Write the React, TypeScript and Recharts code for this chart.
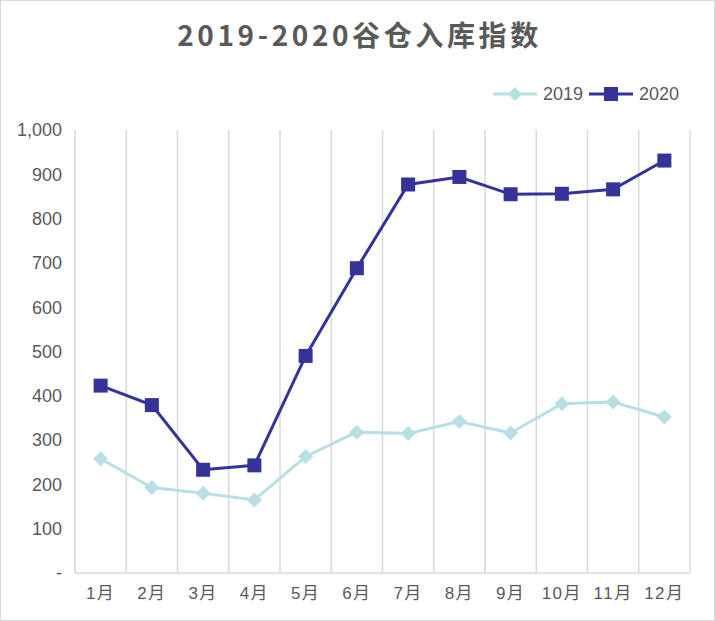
import { LineChart, Line, XAxis, YAxis, CartesianGrid } from "recharts";

const months = ["1月", "2月", "3月", "4月", "5月", "6月", "7月", "8月", "9月", "10月", "11月", "12月"];
const index2019 = [258, 193, 180, 165, 263, 318, 315, 342, 316, 382, 386, 352];
const index2020 = [423, 379, 233, 243, 490, 688, 877, 894, 855, 856, 866, 931];
const yTicks = [0, 100, 200, 300, 400, 500, 600, 700, 800, 900, 1000];
const seriesNames = ["2019", "2020"];

const data = months.map((month, i) => ({
  month,
  y2019: index2019[i],
  y2020: index2020[i],
}));

const LIGHT = "#b8dfe4";
const DARK = "#333399";
const TEXT = "#595959";
const GRID = "#d9d9d9";
const FONT = "'Liberation Sans', Arial, 'Noto Sans CJK SC', sans-serif";

function SquareDot(props: any) {
  const { cx, cy, index } = props;
  if (cx == null || cy == null) return null;
  return <rect key={`sq-${index}`} x={cx - 7} y={cy - 7} width={14} height={14} fill={DARK} />;
}

function DiamondDot(props: any) {
  const { cx, cy, index } = props;
  if (cx == null || cy == null) return null;
  const r = 7.5;
  return (
    <polygon
      key={`dm-${index}`}
      points={`${cx},${cy - r} ${cx + r},${cy} ${cx},${cy + r} ${cx - r},${cy}`}
      fill={LIGHT}
    />
  );
}

function LegendIcon({ color, square }: { color: string; square: boolean }) {
  return (
    <svg width={44} height={16} style={{ display: "block" }}>
      <line x1={0} y1={8} x2={44} y2={8} stroke={color} strokeWidth={3} />
      {square ? (
        <rect x={15} y={1} width={14} height={14} fill={color} />
      ) : (
        <polygon points="22,1 29,8 22,15 15,8" fill={color} />
      )}
    </svg>
  );
}

export default function App() {
  return (
    <div style={{ position: "absolute", left: 0, top: 0, width: 715, height: 621, background: "#fff", fontFamily: FONT }}>
      <div
        style={{
          position: "absolute",
          top: 20,
          left: 2,
          width: 715,
          textAlign: "center",
          fontFamily: "'Noto Sans CJK SC', sans-serif",
          fontWeight: 700,
          fontSize: 28,
          lineHeight: "28px",
          letterSpacing: 3.6,
          color: TEXT,
        }}
      >
        2019-2020谷仓入库指数
      </div>

      <div style={{ position: "absolute", left: 493, top: 84, display: "flex", alignItems: "center", height: 20 }}>
        {seriesNames.map((name, i) => (
          <div key={name} style={{ display: "flex", alignItems: "center", marginRight: i === 0 ? 6 : 0 }}>
            <LegendIcon color={i === 0 ? LIGHT : DARK} square={i === 1} />
            <span style={{ fontSize: 18, color: TEXT, marginLeft: 6 }}>{name}</span>
          </div>
        ))}
      </div>

      <LineChart width={715} height={621} data={data} margin={{ top: 130, right: 25, bottom: 18, left: 0 }}>
        <CartesianGrid
          horizontal={false}
          stroke={GRID}
          strokeWidth={1.5}
          verticalCoordinatesGenerator={({ offset }: any) =>
            Array.from({ length: months.length + 1 }, (_, i) => offset.left + (i * offset.width) / months.length)
          }
        />
        <XAxis
          dataKey="month"
          scale="band"
          interval={0}
          height={30}
          axisLine={{ stroke: GRID, strokeWidth: 1.5 }}
          tickLine={false}
          tickMargin={8}
          tick={{ fill: TEXT, fontSize: 17, fontFamily: FONT, letterSpacing: 1.5 }}
        />
        <YAxis
          width={75}
          domain={[0, 1000]}
          ticks={yTicks}
          interval={0}
          axisLine={false}
          tickLine={false}
          tickMargin={7}
          tick={{ fill: TEXT, fontSize: 18, fontFamily: FONT }}
          tickFormatter={(v: number) => (v === 0 ? "-" : v.toLocaleString("en-US"))}
        />
        <Line
          dataKey="y2019"
          name={seriesNames[0]}
          stroke={LIGHT}
          strokeWidth={3}
          dot={DiamondDot}
          activeDot={false}
          isAnimationActive={false}
        />
        <Line
          dataKey="y2020"
          name={seriesNames[1]}
          stroke={DARK}
          strokeWidth={3}
          dot={SquareDot}
          activeDot={false}
          isAnimationActive={false}
        />
      </LineChart>

      <div
        style={{
          position: "absolute",
          left: 0,
          top: 0,
          width: 715,
          height: 621,
          boxSizing: "border-box",
          border: `1.5px solid ${GRID}`,
          pointerEvents: "none",
        }}
      />
    </div>
  );
}
